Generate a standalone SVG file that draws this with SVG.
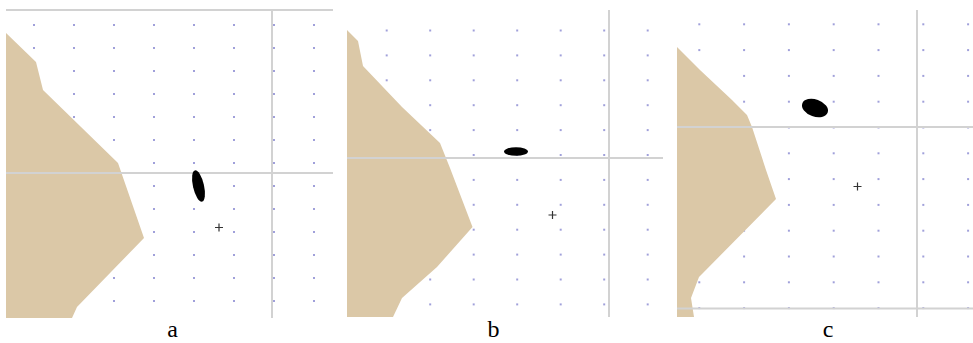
<svg xmlns="http://www.w3.org/2000/svg" width="973" height="343" viewBox="0 0 973 343">
<style>
.land{fill:#dbc8a7;stroke:none}
.ax{stroke:#d2d2d2;stroke-width:2;fill:none}
.blob{fill:#000}
.cross{stroke:#333;stroke-width:1.2;fill:none}
.lbl{font-family:"Liberation Serif","Times New Roman",serif;font-size:24px;fill:#000;text-anchor:middle}
</style>
<defs>
<pattern id="dotsA" patternUnits="userSpaceOnUse" x="33" y="24" width="40" height="23"><rect x="0" y="0" width="2" height="2" fill="#a0a0da"/></pattern>
<pattern id="dotsB" patternUnits="userSpaceOnUse" x="385.7" y="29.5" width="43.5" height="24.9"><rect x="0" y="0" width="2" height="2" fill="#a0a0da"/></pattern>
<pattern id="dotsC" patternUnits="userSpaceOnUse" x="698.3" y="23.3" width="44.8" height="25.8"><rect x="0" y="0" width="2" height="2" fill="#a0a0da"/></pattern>
</defs>
<rect width="973" height="343" fill="#fff"/>

<g id="panel-a">
<rect x="6" y="12" width="327" height="306" fill="url(#dotsA)"/>
<polygon class="land" points="6,33 36,62 43,90 118,163 144,238 77,307 72,318 6,318"/>
<line class="ax" x1="6" y1="10" x2="333" y2="10"/>
<line class="ax" x1="6" y1="173" x2="333" y2="173"/>
<line class="ax" x1="272" y1="10" x2="272" y2="318"/>
<ellipse class="blob" cx="198.5" cy="186" rx="5.5" ry="16" transform="rotate(-13 198.5 186)"/>
<path class="cross" d="M215 227.5h8M219 223.5v8"/>
<text class="lbl" x="172.5" y="337">a</text>
</g>

<g id="panel-b">
<rect x="347" y="12" width="316" height="305" fill="url(#dotsB)"/>
<polygon class="land" points="347,30 358,41 363,66 402,107 440,143 450,168 472.5,227 437,267 402,298 393,317 347,317"/>
<line class="ax" x1="347" y1="158" x2="663" y2="158"/>
<line class="ax" x1="609" y1="10" x2="609" y2="317"/>
<ellipse class="blob" cx="516" cy="151.5" rx="12" ry="4.3"/>
<path class="cross" d="M548.5 215h8M552.5 211v8"/>
<text class="lbl" x="493.5" y="337">b</text>
</g>

<g id="panel-c">
<rect x="677" y="12" width="296" height="305" fill="url(#dotsC)"/>
<polygon class="land" points="677,47 700,70 732,100 747,115 752,127 766,170 776,199 703,273 699,277 691,298 694,317 677,317"/>
<line class="ax" x1="677" y1="127" x2="973" y2="127"/>
<line class="ax" x1="677" y1="308.5" x2="973" y2="308.5"/>
<line class="ax" x1="917" y1="10" x2="917" y2="317"/>
<ellipse class="blob" cx="815" cy="108" rx="13.5" ry="8.5" transform="rotate(20 815 108)"/>
<path class="cross" d="M853.5 186.5h8M857.5 182.5v8"/>
<text class="lbl" x="828" y="337">c</text>
</g>
</svg>
